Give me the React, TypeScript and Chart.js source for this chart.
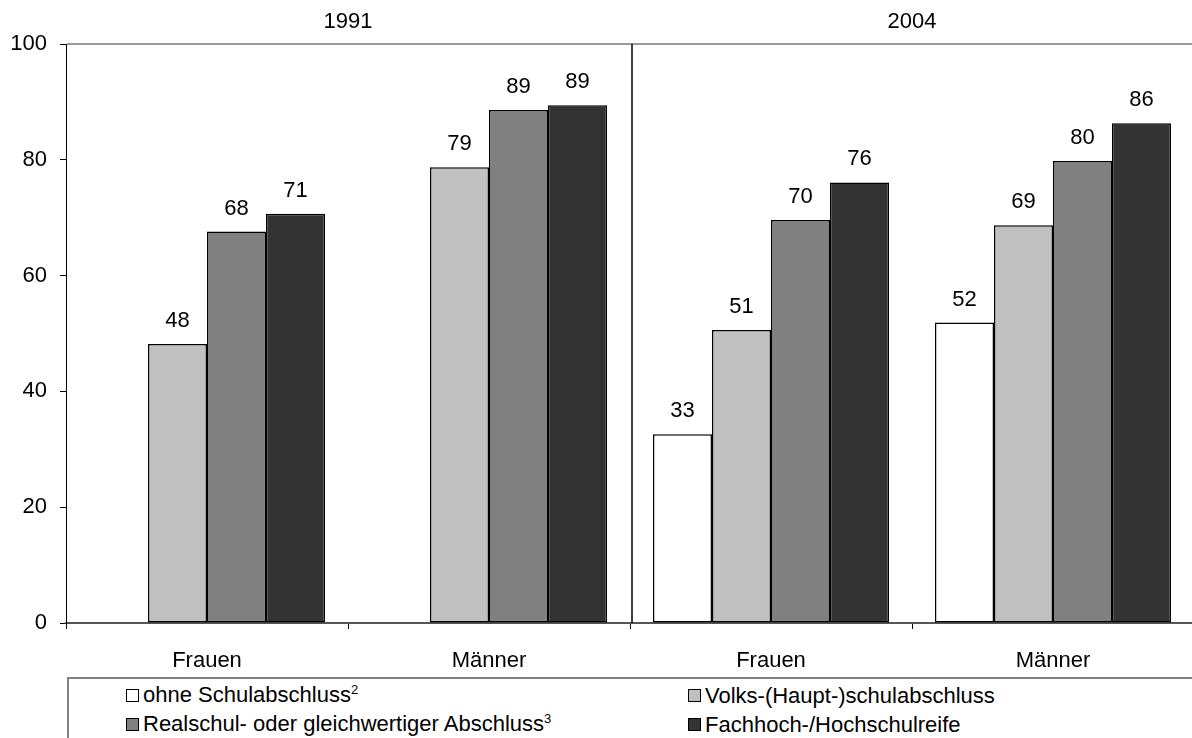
import React, { useEffect, useRef } from "react";
import { Chart, registerables } from "chart.js";

Chart.register(...registerables);

const categories = ["Frauen", "Männer", "Frauen", "Männer"];
const yearLabels = ["1991", "2004"];
const seriesNames = [
  "ohne Schulabschluss",
  "Volks-(Haupt-)schulabschluss",
  "Realschul- oder gleichwertiger Abschluss",
  "Fachhoch-/Hochschulreife",
];
const seriesSup = ["2", "", "3", ""];
const seriesColors = ["#ffffff", "#c0c0c0", "#808080", "#333333"];
const ohne: (number | null)[] = [null, null, 32.6, 51.9];
const volks = [48.2, 78.7, 50.6, 68.7];
const real = [67.6, 88.6, 69.6, 79.8];
const fach = [70.7, 89.4, 76.1, 86.3];
const yTicks = [0, 20, 40, 60, 80, 100];

const FONT = "'Liberation Sans', Arial, sans-serif";
const FS = 22;

const overlayPlugin = {
  id: "overlay",
  afterDatasetsDraw(chart: any) {
    const ctx = chart.ctx;
    ctx.save();
    ctx.font = `${FS}px ${FONT}`;
    ctx.fillStyle = "#000";
    ctx.textAlign = "center";
    ctx.textBaseline = "middle";
    chart.data.datasets.forEach((ds: any, i: number) => {
      const meta = chart.getDatasetMeta(i);
      meta.data.forEach((bar: any, j: number) => {
        const v = ds.data[j];
        if (v === null || v === undefined) return;
        ctx.fillText(String(Math.round(v)), bar.x, bar.y - 23);
      });
    });
    ctx.restore();
  },
  afterDraw(chart: any) {
    const ctx = chart.ctx;
    const area = chart.chartArea;
    const xs = chart.scales.x;
    ctx.save();
    // top border line
    ctx.strokeStyle = "#999";
    ctx.lineWidth = 2;
    ctx.beginPath();
    ctx.moveTo(area.left + 1, area.top);
    ctx.lineTo(area.right, area.top);
    ctx.stroke();
    // separator between years
    const sepX = Math.round(xs.getPixelForValue(1.5)) + 2;
    ctx.strokeStyle = "#000";
    ctx.lineWidth = 1.5;
    ctx.beginPath();
    ctx.moveTo(sepX, area.top);
    ctx.lineTo(sepX, area.bottom);
    ctx.stroke();
    // year labels
    ctx.font = `${FS}px ${FONT}`;
    ctx.fillStyle = "#000";
    ctx.textAlign = "center";
    ctx.textBaseline = "middle";
    yearLabels.forEach((y, i) => {
      const cx = (xs.getPixelForValue(i * 2) + xs.getPixelForValue(i * 2 + 1)) / 2;
      ctx.fillText(y, cx, 22);
    });
    ctx.restore();
  },
};

function Legend() {
  const positions = [
    { left: 126, top: 683 },
    { left: 688, top: 683 },
    { left: 126, top: 712 },
    { left: 688, top: 712 },
  ];
  return (
    <>
      <div
        style={{
          position: "absolute",
          left: 67,
          top: 677,
          width: 1200,
          height: 100,
          borderTop: "2px solid #808080",
          borderLeft: "2px solid #808080",
          boxSizing: "border-box",
        }}
      />
      {seriesNames.map((name, i) => (
        <div
          key={name}
          style={{
            position: "absolute",
            left: positions[i].left,
            top: positions[i].top,
            height: 25,
            display: "flex",
            alignItems: "center",
            fontFamily: FONT,
            fontSize: 22,
            color: "#000",
            whiteSpace: "nowrap",
          }}
        >
          <span
            style={{
              display: "inline-block",
              width: 11,
              height: 11,
              border: "1px solid #000",
              background: seriesColors[i],
              marginRight: 4,
            }}
          />
          <span style={{ lineHeight: "25px" }}>
            {name}
            {seriesSup[i] ? (
              <span style={{ fontSize: 13, position: "relative", top: -8 }}>{seriesSup[i]}</span>
            ) : null}
          </span>
        </div>
      ))}
    </>
  );
}

export default function App() {
  const canvasRef = useRef<HTMLCanvasElement | null>(null);

  useEffect(() => {
    if (!canvasRef.current) return;
    const seriesData = [ohne, volks, real, fach];
    const chart = new Chart(canvasRef.current, {
      type: "bar",
      data: {
        labels: categories,
        datasets: seriesNames.map((name, i) => ({
          label: name,
          data: seriesData[i] as any,
          backgroundColor: seriesColors[i],
          borderColor: "#000",
          borderWidth: 1.5,
          borderSkipped: false,
          categoryPercentage: 0.837,
          barPercentage: 1,
        })),
      },
      options: {
        responsive: false,
        animation: false,
        devicePixelRatio: 1,
        layout: { padding: { top: 44, right: 6, left: 0, bottom: 0 } },
        plugins: {
          legend: { display: false },
          tooltip: { enabled: false },
        },
        scales: {
          x: {
            grid: {
              offset: true,
              drawOnChartArea: false,
              drawTicks: true,
              tickLength: 6,
              color: "#000",
            },
            border: { color: "#555", width: 2 },
            ticks: {
              color: "#000",
              font: { family: FONT, size: FS },
              padding: 19,
            },
            afterFit: (s: any) => {
              s.height = 47;
            },
          },
          y: {
            min: 0,
            max: 100,
            afterBuildTicks: (s: any) => {
              s.ticks = yTicks.map((v) => ({ value: v }));
            },
            grid: {
              drawOnChartArea: false,
              drawTicks: true,
              tickLength: 6,
              color: "#000",
            },
            border: { color: "#000", width: 1 },
            ticks: {
              color: "#000",
              font: { family: FONT, size: FS },
              padding: 13,
            },
            afterFit: (s: any) => {
              s.width = 66;
            },
          },
        },
      },
      plugins: [overlayPlugin],
    });
    return () => chart.destroy();
  }, []);

  return (
    <div
      style={{
        position: "absolute",
        left: 0,
        top: 0,
        width: 1192,
        height: 738,
        overflow: "hidden",
        background: "#fff",
      }}
    >
      <canvas
        ref={canvasRef}
        width={1200}
        height={670}
        style={{ position: "absolute", left: 0, top: 0, width: 1200, height: 670 }}
      />
      <Legend />
    </div>
  );
}
